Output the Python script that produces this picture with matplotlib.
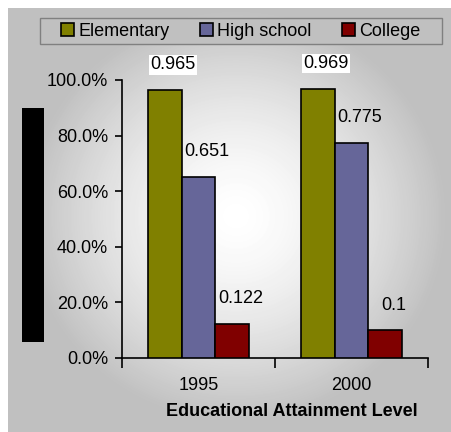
import numpy as np
import matplotlib
matplotlib.use('Agg')
import matplotlib.pyplot as plt
from matplotlib.patches import Rectangle
from matplotlib.ticker import PercentFormatter

years = ['1995', '2000']
series_names = ['Elementary', 'High school', 'College']
elementary = [0.965, 0.969]
high_school = [0.651, 0.775]
college = [0.122, 0.1]
label_text = [['0.965', '0.969'], ['0.651', '0.775'], ['0.122', '0.1']]
colors = ['#808000', '#666699', '#800000']

plt.rcParams['font.family'] = ['Liberation Sans', 'DejaVu Sans']

W, H = 451, 432
fig = plt.figure(figsize=(W / 100, H / 100), dpi=100, facecolor='white')

# gray background with light centre
bg = fig.add_axes([8 / W, 0, (W - 8) / W, (H - 8) / H])
bg.set_axis_off()
yy, xx = np.mgrid[0:H - 8, 0:W - 8]
r = np.sqrt(((xx - 228) / 210.0) ** 2 + ((yy - 208) / 205.0) ** 2)
r = np.clip(r, 0, 1)
shade = 1.0 - (1.0 - 0xc0 / 255.0) * r ** 1.5
bg.imshow(shade, cmap='gray', vmin=0, vmax=1, aspect='auto', interpolation='bilinear')

ax = fig.add_axes([122 / W, 1 - 358 / H, 306 / W, 278 / H])
ax.set_facecolor('none')

x = np.arange(len(years))
w = 0.222
all_vals = [elementary, high_school, college]
for i, (vals, c, name) in enumerate(zip(all_vals, colors, series_names)):
    pos = x + (i - 1) * w
    ax.bar(pos, vals, width=w, color=c, edgecolor='black', linewidth=1.2, label=name, zorder=3)
    for p, v, t in zip(pos, vals, label_text[i]):
        kw = {}
        if i == 0:
            kw['bbox'] = dict(facecolor='white', edgecolor='none', pad=1.0)
        ax.annotate(t, (p, v), xytext=(6, 12), textcoords='offset points',
                    ha='center', va='bottom', fontsize=13, annotation_clip=False, **kw)

ax.set_xlim(-0.5, 1.5)
ax.set_ylim(0, 1.0)
ax.yaxis.set_major_formatter(PercentFormatter(1.0, decimals=1))
ax.set_yticks(np.arange(0, 1.01, 0.2))
ax.set_xticks(x)
ax.set_xticklabels(years)
ax.set_xticks([-0.5, 0.5, 1.5], minor=True)
ax.tick_params(axis='x', which='major', length=0, pad=14, labelsize=13)
ax.tick_params(axis='x', which='minor', length=7, width=1.2, direction='out')
ax.tick_params(axis='y', length=5, width=1.2, pad=5, labelsize=13)
for s in ['top', 'right']:
    ax.spines[s].set_visible(False)
for s in ['left', 'bottom']:
    ax.spines[s].set_linewidth(1.2)

fig.text(292 / W, 1 - 412 / H, 'Educational Attainment Level', ha='center', va='center',
         fontsize=13, fontweight='bold')

# redacted axis title
fig.patches.append(Rectangle((22 / W, 1 - 342 / H), 22 / W, 234 / H,
                             transform=fig.transFigure, facecolor='black', edgecolor='none'))

# legend frame
fig.patches.append(Rectangle((40 / W, 1 - 44 / H), 402 / W, 26 / H,
                             transform=fig.transFigure, facecolor='#c0c0c0',
                             edgecolor='#808080', linewidth=1.0))
leg = fig.legend(loc='center', bbox_to_anchor=(241 / W, 1 - 31 / H),
                 ncol=3, fontsize=13, frameon=False,
                 handlelength=0.7, handleheight=0.7, handletextpad=0.25,
                 borderaxespad=0, borderpad=0, columnspacing=1.7)
for hnd in leg.legend_handles:
    hnd.set_linewidth(1.2)

fig.savefig('out.png', dpi=100, facecolor='white')
